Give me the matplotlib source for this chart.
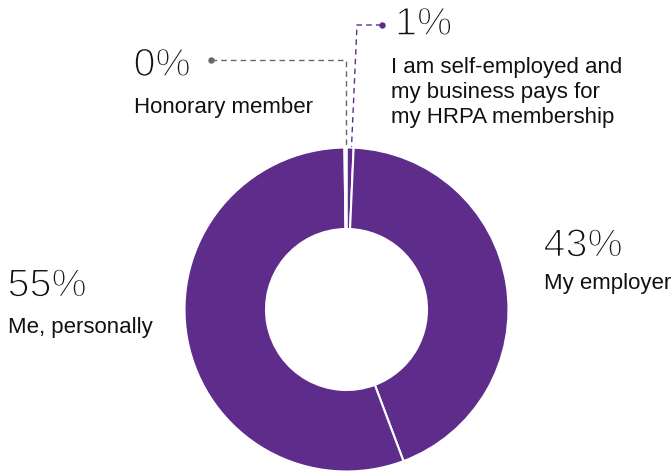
import matplotlib
matplotlib.use("Agg")
import matplotlib.pyplot as plt
import matplotlib.patheffects as pe

# Who pays for the membership (share of respondents, %)
labels = ["I am self-employed and\nmy business pays for\nmy HRPA membership",
          "My employer", "Me, personally", "Honorary member"]
shares = [0.7, 43.4, 55.3, 0.2]

PURPLE = "#5e2d8c"
GREY = "#676770"
INK = "#111111"

W, H = 671, 472
fig = plt.figure(figsize=(W / 100, H / 100), dpi=100)
ax = fig.add_axes([0, 0, 1, 1])

# y axis runs downward (pixel-like coordinates), so startangle=-90 is 12 o'clock
# and counterclock=True goes clockwise on screen
ax.pie(shares, radius=162, center=(346.5, 309.5), startangle=-90, counterclock=True,
       colors=[PURPLE] * len(shares),
       wedgeprops=dict(width=81.5, edgecolor="white", linewidth=1.5))

ax.set_xlim(0, W)
ax.set_ylim(H, 0)
ax.set_aspect("auto")
ax.axis("off")

# thin the big numbers a little: fill, then eat into the outline with white
thin = [pe.Normal(), pe.Stroke(linewidth=1.1, foreground="white")]
big = dict(family=["Liberation Sans", "DejaVu Sans"], fontsize=28.5, color=INK,
           va="baseline", path_effects=thin)
small = dict(family=["Liberation Sans", "DejaVu Sans"], fontsize=16, color=INK,
             va="baseline", linespacing=1.26)

pct = [f"{v:.0f}%" for v in shares]

# self-employed: callout above the ring
ax.text(395, 35, pct[0], **big)
ax.text(391, 123, labels[0], **small)
ax.plot([381.5, 357, 351.5], [25, 25, 147], color=PURPLE, lw=1, ls=(0, (4, 3)))
ax.plot(381.5, 25, "o", color=PURPLE, ms=3.6)

# my employer
ax.text(543.5, 256.5, pct[1], **big)
ax.text(543.5, 289, labels[1], **small)

# me, personally
ax.text(7.5, 296.5, pct[2], **big)
ax.text(7.5, 333, labels[2], **small)

# honorary member: callout to the top-left of the ring
ax.text(133.5, 76, pct[3], **big)
ax.text(133.5, 112.5, labels[3], **small)
ax.plot([211, 345.5, 345.5], [60, 60, 147], color=GREY, lw=1, ls=(0, (4, 3)))
ax.plot(211, 60, "o", color=GREY, ms=3.6)

fig.savefig("out.png", dpi=100)
